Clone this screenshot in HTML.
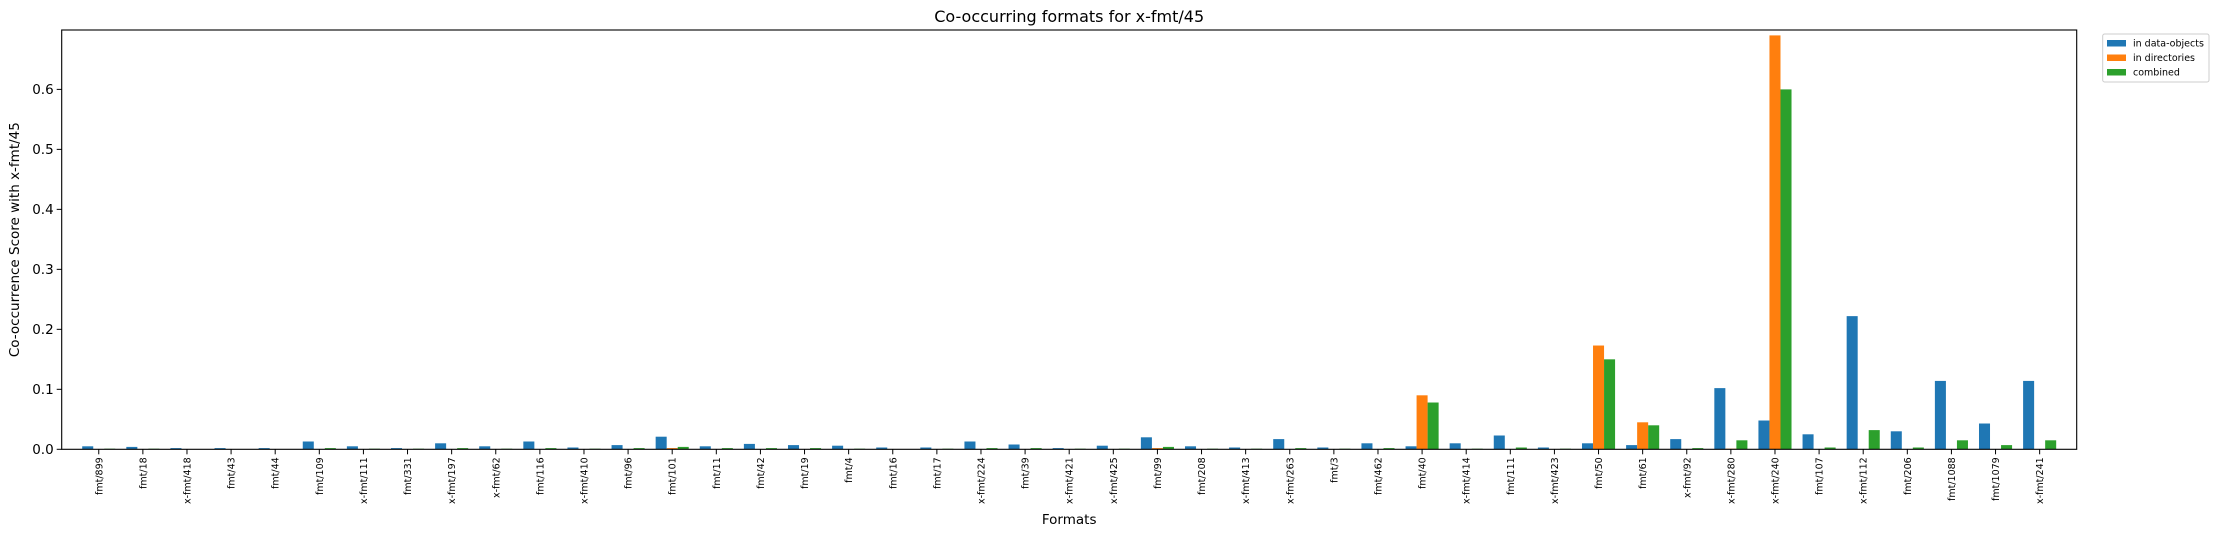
<!DOCTYPE html>
<html><head><meta charset="utf-8"><style>
body{margin:0;background:#fff;}
svg{display:block;font-family:"DejaVu Sans","Liberation Sans",sans-serif;}
</style></head><body>
<svg id="chart" width="2219" height="536"></svg>
<script>
const categories=["fmt/899","fmt/18","x-fmt/418","fmt/43","fmt/44","fmt/109","x-fmt/111","fmt/331","x-fmt/197","x-fmt/62","fmt/116","x-fmt/410","fmt/96","fmt/101","fmt/11","fmt/42","fmt/19","fmt/4","fmt/16","fmt/17","x-fmt/224","fmt/39","x-fmt/421","x-fmt/425","fmt/99","fmt/208","x-fmt/413","x-fmt/263","fmt/3","fmt/462","fmt/40","x-fmt/414","fmt/111","x-fmt/423","fmt/50","fmt/61","x-fmt/92","x-fmt/280","x-fmt/240","fmt/107","x-fmt/112","fmt/206","fmt/1088","fmt/1079","x-fmt/241"];
const dataObjects=[0.005,0.004,0.002,0.002,0.002,0.013,0.005,0.002,0.010,0.005,0.013,0.003,0.007,0.021,0.005,0.009,0.007,0.006,0.003,0.003,0.013,0.008,0.002,0.006,0.020,0.005,0.003,0.017,0.003,0.010,0.005,0.010,0.023,0.003,0.010,0.007,0.017,0.102,0.048,0.025,0.222,0.030,0.114,0.043,0.114];
const directories=[0,0,0,0,0,0,0,0,0,0,0,0,0,0.002,0,0,0,0,0,0,0,0,0,0,0.002,0,0,0,0,0,0.090,0,0,0,0.173,0.045,0,0.001,0.690,0,0,0,0,0,0];
const combined=[0.001,0.001,0,0,0,0.002,0.001,0.001,0.002,0.001,0.002,0.001,0.002,0.004,0.002,0.002,0.002,0.001,0,0.001,0.002,0.002,0.001,0.001,0.004,0.001,0.001,0.002,0.001,0.002,0.078,0.001,0.003,0.001,0.150,0.040,0.002,0.015,0.600,0.003,0.032,0.003,0.015,0.007,0.015];
const yTicks=[0.0,0.1,0.2,0.3,0.4,0.5,0.6];
const seriesNames=["in data-objects","in directories","combined"];

const svg=document.getElementById('chart');
const NS="http://www.w3.org/2000/svg";
const L=61.7,R=2076.7,T=30,B=449.3;
const xmin=-0.84,xmax=categories.length-1+0.84,ymax=0.699;
const xs=v=>L+(v-xmin)/(xmax-xmin)*(R-L);
const ys=v=>B-v/ymax*(B-T);
function mk(tag,attrs,parent){const e=document.createElementNS(NS,tag);for(const k in attrs)e.setAttribute(k,attrs[k]);(parent||svg).appendChild(e);return e;}
const colors=["#1f77b4","#ff7f0e","#2ca02c"];
const series=[dataObjects,directories,combined];
const w=0.25;
series.forEach((s,si)=>{
  const g=mk('g',{});
  
  
  s.forEach((v,i)=>{
    const c=i+(si-1)*w;
    const x0=xs(c-w/2),x1=xs(c+w/2);
    const r=mk('rect',{x:x0,y:ys(v),width:x1-x0,height:Math.max(0,B-ys(v)),fill:colors[si]},g);
    
    
  });
});
// axes frame
const fr=mk('rect',{x:L,y:T,width:R-L,height:B-T,fill:'none',stroke:'#000','stroke-width':1.1});


// y ticks
yTicks.forEach(t=>{
  const y=ys(t);
  mk('line',{x1:L-5,x2:L,y1:y,y2:y,stroke:'#000','stroke-width':1});
  const tx=mk('text',{x:L-8,y:y+4.5,'text-anchor':'end','font-size':13.5});
  tx.textContent=t.toFixed(1);
  
  
});
// x ticks
categories.forEach((c,i)=>{
  const x=xs(i);
  mk('line',{x1:x,x2:x,y1:B,y2:B+5,stroke:'#000','stroke-width':1});
  const tx=mk('text',{x:0,y:0,'text-anchor':'end','font-size':9.5,transform:`translate(${x+3.5},${B+8}) rotate(-90)`});
  tx.textContent=c;
  
  
});
const title=mk('text',{x:(L+R)/2,y:22,'text-anchor':'middle','font-size':16});
title.textContent="Co-occurring formats for x-fmt/45";


const xl=mk('text',{x:(L+R)/2,y:524,'text-anchor':'middle','font-size':13.5});
xl.textContent="Formats";


const yl=mk('text',{x:0,y:0,'text-anchor':'middle','font-size':13.5,transform:`translate(19,${(T+B)/2}) rotate(-90)`});
yl.textContent="Co-occurrence Score with x-fmt/45";


// legend
const lg=mk('g',{});


mk('rect',{x:2102.7,y:34,width:106.3,height:48,rx:2,fill:'#fff',stroke:'#ccc','stroke-width':1},lg);
seriesNames.forEach((n,i)=>{
  const y=43+i*14.5;
  mk('rect',{x:2107,y:y-3,width:19,height:6.5,fill:colors[i]},lg);
  const t=mk('text',{x:2133,y:y+3.5,'font-size':9.5},lg);
  t.textContent=n;
  
  
});
</script>
</body></html>
